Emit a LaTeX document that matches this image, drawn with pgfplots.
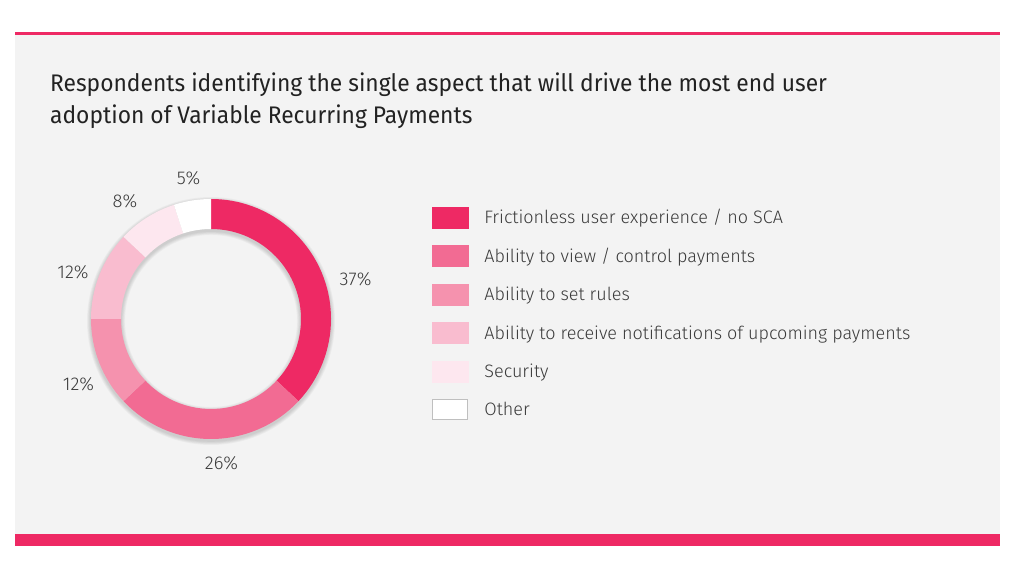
\documentclass[border=0pt]{standalone}
\usepackage{pgfplots}
\pgfplotsset{compat=1.18}
\usepackage{pgfplotstable}
\usepackage{fontspec}
\setmainfont{Fira Sans}
\newfontfamily\lightfont{Fira Sans Light}
\newfontfamily\titlefont{Fira Sans}[FakeStretch=0.95]
\definecolor{c1}{RGB}{238,41,100}
\definecolor{c2}{RGB}{242,107,147}
\definecolor{c3}{RGB}{245,146,174}
\definecolor{c4}{RGB}{249,188,207}
\definecolor{c5}{RGB}{253,231,239}
\definecolor{c6}{RGB}{255,255,255}
\definecolor{panel}{RGB}{243,243,243}
\definecolor{titlecol}{RGB}{34,34,34}
\definecolor{txt}{RGB}{58,58,58}
\pgfplotstableread{
value lx ly col
37 144.5 40 c1
26 10.5 -144 c2
12 -132.5 -65 c3
12 -138 47 c4
8 -86 118 c5
5 -22.5 140.5 c6
}\data
\pgfplotstablecreatecol[expr accum={\pgfmathaccuma + \thisrow{value}}{0}]{cum}\data
\begin{document}
\begin{tikzpicture}
\fill[white] (0pt,0pt) rectangle (1017pt,576pt);
\useasboundingbox (0pt,0pt) rectangle (1017pt,576pt);
\fill[panel] (15pt,42pt) rectangle (1000pt,541pt);
\fill[c1] (15pt,540.5pt) rectangle (1000pt,544pt);
\fill[c1] (15pt,30pt) rectangle (1000pt,42pt);
\node[anchor=base west, inner sep=0pt, text=titlecol, font=\titlefont\fontsize{24}{24}\selectfont] at (50pt,484pt) {Respondents identifying the single aspect that will drive the most end user};
\node[anchor=base west, inner sep=0pt, text=titlecol, font=\titlefont\fontsize{24}{24}\selectfont] at (50pt,452pt) {adoption of Variable Recurring Payments};
\begin{axis}[
  hide axis, scale only axis, width=240pt, height=240pt,
  xmin=-120, xmax=120, ymin=-120, ymax=120, enlargelimits=false,
  at={(211pt,257pt)}, anchor=center, clip=false,
  legend style={at={(axis description cs:1.42083,0.9667)}, anchor=north west,
    draw=none, fill=none, inner sep=0pt, outer sep=0pt, row sep=17pt,
    font=\lightfont\fontsize{18}{18}\selectfont, text=txt,
    nodes={inner sep=0pt, outer sep=0pt, text height=16.4pt, text depth=4pt},
    /tikz/every odd column/.append style={column sep=16pt}},
  legend cell align=left,
]
\pgfplotsinvokeforeach{1,...,5}{
  \pgfmathsetmacro\sRo{120+#1*0.8}
  \pgfmathsetmacro\sRi{90-#1*0.8}
  \edef\temp{\noexpand\fill[black, opacity=0.03, even odd rule] (0,-2) circle[radius=\sRo pt] (0,-2) circle[radius=\sRi pt];}
  \temp
}
\pgfplotsinvokeforeach{0,...,5}{
  \pgfplotstablegetelem{#1}{value}\of\data \let\sVal\pgfplotsretval
  \pgfplotstablegetelem{#1}{cum}\of\data \let\sCum\pgfplotsretval
  \pgfplotstablegetelem{#1}{col}\of\data \let\sCol\pgfplotsretval
  \pgfplotstablegetelem{#1}{lx}\of\data \let\sLx\pgfplotsretval
  \pgfplotstablegetelem{#1}{ly}\of\data \let\sLy\pgfplotsretval
  \pgfmathsetmacro\sA{90-3.6*(\sCum-\sVal)}
  \pgfmathsetmacro\sB{90-3.6*\sCum}
  \pgfmathsetmacro\sAx{120*cos(\sA)}
  \pgfmathsetmacro\sAy{120*sin(\sA)}
  \pgfmathsetmacro\sBx{90*cos(\sB)}
  \pgfmathsetmacro\sBy{90*sin(\sB)}
  \edef\temp{\noexpand\fill[\sCol] (\sAx,\sAy) arc[start angle=\sA, end angle=\sB, radius=120pt] -- (\sBx,\sBy) arc[start angle=\sB, end angle=\sA, radius=90pt] -- cycle;
    \noexpand\node[text=txt, font=\noexpand\lightfont\noexpand\fontsize{18.5}{18.5}\noexpand\selectfont] at (\sLx,\sLy) {\sVal\noexpand\%};}
  \temp
}
\addlegendimage{legend image code/.code={\fill[c1] (0pt,-10.5pt) rectangle (36pt,10.5pt);}}
\addlegendentry{Frictionless user experience / no SCA}
\addlegendimage{legend image code/.code={\fill[c2] (0pt,-10.5pt) rectangle (36pt,10.5pt);}}
\addlegendentry{Ability to view / control payments}
\addlegendimage{legend image code/.code={\fill[c3] (0pt,-10.5pt) rectangle (36pt,10.5pt);}}
\addlegendentry{Ability to set rules}
\addlegendimage{legend image code/.code={\fill[c4] (0pt,-10.5pt) rectangle (36pt,10.5pt);}}
\addlegendentry{Ability to receive notifications of upcoming payments}
\addlegendimage{legend image code/.code={\fill[c5] (0pt,-10.5pt) rectangle (36pt,10.5pt);}}
\addlegendentry{Security}
\addlegendimage{legend image code/.code={\filldraw[fill=white, draw=black!25, line width=0.8pt] (0.4pt,-10.1pt) rectangle (35.6pt,10.1pt);}}
\addlegendentry{Other}
\end{axis}
\end{tikzpicture}
\end{document}
